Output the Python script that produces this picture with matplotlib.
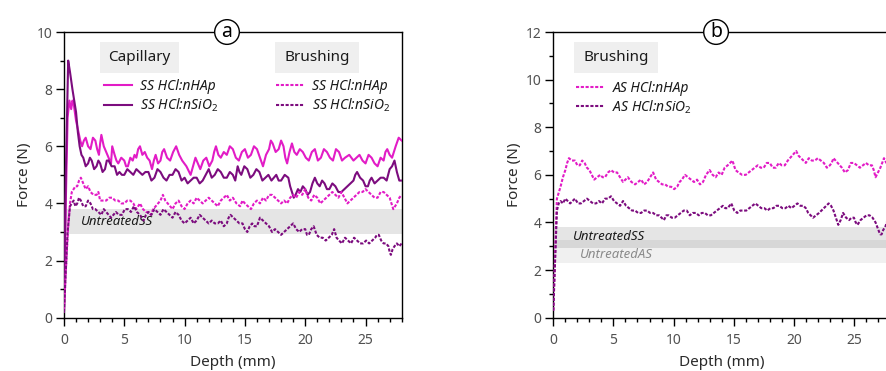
import matplotlib
matplotlib.use("Agg")
import matplotlib.pyplot as plt
from matplotlib.patches import Rectangle
from matplotlib.ticker import MultipleLocator

plt.rcParams['font.family'] = ['Noto Sans', 'DejaVu Sans']
plt.rcParams['mathtext.fontset'] = 'custom'
plt.rcParams['mathtext.rm'] = 'Noto Sans'
plt.rcParams['mathtext.it'] = 'Noto Sans:italic'
plt.rcParams['mathtext.default'] = 'it'

# ---------------- data: (depth mm, force N) ----------------
# Panel a: capillary SS HCl:nHAp (solid magenta)
a_cap_hap = [(0, 0.2), (0.15, 4.0), (0.3, 7.0), (0.45, 7.6), (0.6, 7.3), (0.7, 7.6), (0.8, 7.5), (0.9, 7.2),
             (1.0, 6.9), (1.1, 6.7), (1.2, 6.5), (1.35, 6.2), (1.5, 6.0), (1.65, 6.2), (1.8, 6.3), (2.0, 6.0),
             (2.2, 5.9), (2.4, 6.3), (2.6, 6.2), (2.75, 5.9), (2.9, 5.7), (3.0, 6.1), (3.1, 6.4), (3.3, 6.0),
             (3.5, 5.8), (3.7, 5.6), (3.9, 5.4), (4.0, 6.0), (4.2, 5.7), (4.35, 5.5), (4.5, 5.4), (4.75, 5.6),
             (5.0, 5.5), (5.15, 5.3), (5.3, 5.3), (5.5, 5.6), (5.7, 5.5), (5.85, 5.7), (6.0, 5.6), (6.15, 5.9),
             (6.3, 6.0), (6.5, 5.7), (6.7, 5.8), (6.9, 5.6), (7.1, 5.5), (7.3, 5.2), (7.45, 5.5), (7.6, 5.7),
             (7.8, 5.4), (8.0, 5.5), (8.15, 5.8), (8.3, 5.9), (8.55, 5.6), (8.8, 5.5), (9.05, 5.8), (9.3, 6.0),
             (9.55, 5.7), (9.8, 5.5), (10.15, 5.3), (10.5, 5.0), (10.7, 5.3), (10.9, 5.6), (11.1, 5.4), (11.3, 5.2),
             (11.55, 5.5), (11.8, 5.6), (12.05, 5.3), (12.3, 5.5), (12.45, 5.8), (12.6, 6.0), (12.8, 5.7), (13.0, 5.6),
             (13.25, 5.8), (13.5, 5.7), (13.75, 6.0), (14.0, 5.9), (14.25, 5.6), (14.5, 5.5), (14.75, 5.8), (15.0, 5.9),
             (15.25, 5.6), (15.5, 5.7), (15.75, 6.0), (16.0, 5.9), (16.25, 5.6), (16.5, 5.3), (16.75, 5.7), (17.0, 5.9),
             (17.15, 6.2), (17.3, 6.1), (17.55, 5.8), (17.8, 5.9), (18.0, 6.2), (18.2, 6.0), (18.35, 5.6), (18.5, 5.4),
             (18.7, 5.8), (18.9, 6.1), (19.1, 5.8), (19.3, 5.7), (19.55, 5.9), (19.8, 5.8), (20.05, 5.6), (20.3, 5.5),
             (20.55, 5.8), (20.8, 5.9), (21.05, 5.5), (21.3, 5.6), (21.55, 5.9), (21.8, 5.8), (22.05, 5.6), (22.3, 5.5),
             (22.55, 5.9), (22.8, 5.8), (23.05, 5.5), (23.3, 5.6), (23.65, 5.7), (24.0, 5.5), (24.25, 5.6), (24.5, 5.7),
             (24.75, 5.5), (25.0, 5.4), (25.25, 5.7), (25.5, 5.6), (25.75, 5.4), (26.0, 5.3), (26.25, 5.6), (26.5, 5.5),
             (26.65, 5.8), (26.8, 5.9), (27.0, 5.7), (27.2, 5.6), (27.35, 5.8), (27.5, 6.0), (27.75, 6.3), (28.0, 6.2)]

# Panel a: capillary SS HCl:nSiO2 (solid purple)
a_cap_sio = [(0, 0.2), (0.15, 5.0), (0.35, 9.0), (0.5, 8.6), (0.7, 8.0), (0.85, 7.6), (1.0, 7.2), (1.15, 6.5),
             (1.3, 6.0), (1.45, 5.7), (1.6, 5.6), (1.8, 5.3), (2.0, 5.4), (2.15, 5.6), (2.3, 5.5), (2.5, 5.2),
             (2.7, 5.3), (2.85, 5.5), (3.0, 5.4), (3.2, 5.1), (3.4, 5.2), (3.55, 5.5), (3.7, 5.5), (3.95, 5.3),
             (4.2, 5.3), (4.4, 5.0), (4.6, 5.1), (4.8, 5.0), (5.0, 5.0), (5.25, 5.2), (5.5, 5.1), (5.75, 5.0),
             (6.0, 5.2), (6.25, 5.1), (6.5, 5.0), (6.75, 5.1), (7.0, 5.1), (7.25, 4.8), (7.5, 4.9), (7.75, 5.2),
             (8.0, 5.1), (8.25, 4.9), (8.5, 4.8), (8.75, 5.0), (9.0, 5.0), (9.25, 5.2), (9.5, 5.1), (9.75, 4.8),
             (10.0, 4.9), (10.25, 4.7), (10.5, 4.8), (10.75, 4.9), (11.0, 4.9), (11.25, 4.7), (11.5, 4.8), (11.75, 5.0),
             (12.0, 5.2), (12.25, 4.9), (12.5, 5.0), (12.75, 5.2), (13.0, 5.1), (13.25, 4.9), (13.5, 4.9), (13.75, 5.1),
             (14.0, 5.0), (14.2, 4.8), (14.4, 5.3), (14.55, 5.1), (14.7, 5.0), (14.95, 5.3), (15.2, 5.2), (15.45, 4.9),
             (15.7, 5.0), (15.95, 5.2), (16.2, 5.1), (16.45, 4.8), (16.7, 4.9), (16.95, 5.0), (17.2, 4.8), (17.4, 4.9),
             (17.6, 5.0), (17.8, 4.8), (18.0, 4.8), (18.3, 5.0), (18.6, 4.9), (18.75, 4.6), (18.9, 4.4), (19.05, 4.2),
             (19.2, 4.3), (19.4, 4.5), (19.6, 4.4), (19.8, 4.6), (20.0, 4.5), (20.2, 4.3), (20.4, 4.4), (20.6, 4.7),
             (20.8, 4.9), (21.0, 4.7), (21.2, 4.6), (21.4, 4.8), (21.6, 4.7), (21.8, 4.5), (22.0, 4.5), (22.25, 4.7),
             (22.5, 4.6), (22.75, 4.4), (23.0, 4.4), (23.25, 4.5), (23.5, 4.6), (23.75, 4.7), (24.0, 4.8), (24.15, 5.0),
             (24.3, 5.1), (24.55, 4.9), (24.8, 4.8), (25.0, 4.6), (25.2, 4.6), (25.35, 4.8), (25.5, 4.9), (25.75, 4.7),
             (26.0, 4.8), (26.25, 4.9), (26.5, 4.9), (26.75, 4.8), (27.0, 5.2), (27.2, 5.3), (27.4, 5.5), (27.6, 5.1),
             (27.8, 4.8), (28.0, 4.8)]

# Panel a: brushing SS HCl:nHAp (dashed magenta)
a_bru_hap = [(0, 0.3), (0.2, 2.0), (0.35, 3.2), (0.5, 4.0), (0.65, 4.4), (0.8, 4.5), (0.95, 4.6), (1.1, 4.6),
             (1.25, 4.8), (1.4, 4.9), (1.6, 4.7), (1.8, 4.5), (2.0, 4.6), (2.2, 4.4), (2.45, 4.3), (2.7, 4.3),
             (2.85, 4.4), (3.0, 4.1), (3.25, 4.1), (3.5, 4.1), (3.75, 4.2), (4.0, 4.2), (4.25, 4.1), (4.5, 4.1),
             (4.75, 4.0), (5.0, 4.0), (5.25, 4.1), (5.5, 4.1), (5.75, 4.0), (6.0, 3.8), (6.15, 3.9), (6.3, 4.0),
             (6.55, 3.8), (6.8, 3.7), (7.0, 3.7), (7.2, 3.6), (7.4, 3.8), (7.6, 3.9), (7.8, 4.0), (8.0, 4.1),
             (8.2, 4.3), (8.4, 4.1), (8.6, 4.0), (8.8, 3.9), (9.0, 3.8), (9.25, 4.0), (9.5, 4.1), (9.75, 3.9),
             (10.0, 3.8), (10.25, 4.0), (10.5, 4.1), (10.75, 4.0), (11.0, 4.2), (11.25, 4.1), (11.5, 4.0), (11.75, 4.1),
             (12.0, 4.2), (12.25, 4.1), (12.5, 4.0), (12.75, 3.9), (13.0, 4.1), (13.25, 4.2), (13.5, 4.3), (13.75, 4.1),
             (14.0, 4.2), (14.3, 4.0), (14.6, 3.9), (14.8, 4.1), (15.0, 4.0), (15.25, 3.9), (15.5, 3.8), (15.75, 4.0),
             (16.0, 4.1), (16.25, 4.0), (16.5, 4.2), (16.75, 4.1), (17.0, 4.3), (17.25, 4.3), (17.5, 4.2), (17.75, 4.1),
             (18.0, 4.0), (18.25, 4.1), (18.5, 4.0), (18.75, 4.2), (19.0, 4.3), (19.25, 4.2), (19.5, 4.4), (19.75, 4.3),
             (20.0, 4.5), (20.25, 4.2), (20.5, 4.1), (20.75, 4.3), (21.0, 4.2), (21.25, 4.0), (21.5, 4.1), (21.75, 4.2),
             (22.0, 4.3), (22.25, 4.4), (22.5, 4.3), (22.75, 4.2), (23.0, 4.4), (23.25, 4.2), (23.5, 4.0), (23.75, 4.1),
             (24.0, 4.2), (24.25, 4.3), (24.5, 4.4), (24.75, 4.4), (25.0, 4.5), (25.25, 4.4), (25.5, 4.3), (25.75, 4.2),
             (26.0, 4.2), (26.25, 4.4), (26.5, 4.4), (26.75, 4.3), (27.0, 4.2), (27.15, 4.0), (27.3, 3.8), (27.45, 3.9),
             (27.6, 4.0), (27.8, 4.2), (28.0, 4.3)]

# Panel a: brushing SS HCl:nSiO2 (dashed purple)
a_bru_sio = [(0, 0.2), (0.3, 3.0), (0.5, 3.9), (0.65, 4.0), (0.8, 4.1), (0.95, 3.9), (1.1, 4.0), (1.25, 4.2),
             (1.4, 4.1), (1.6, 3.9), (1.8, 3.9), (2.0, 4.1), (2.2, 4.0), (2.4, 3.8), (2.6, 3.8), (2.85, 3.7),
             (3.1, 3.6), (3.3, 3.8), (3.5, 3.7), (3.7, 3.6), (3.9, 3.5), (4.1, 3.6), (4.3, 3.7), (4.55, 3.6),
             (4.8, 3.6), (5.05, 3.8), (5.3, 3.8), (5.55, 3.7), (5.8, 3.9), (6.05, 3.7), (6.3, 3.6), (6.45, 3.5),
             (6.6, 3.4), (6.8, 3.6), (7.0, 3.7), (7.25, 3.6), (7.5, 3.8), (7.75, 3.7), (8.0, 3.6), (8.25, 3.8),
             (8.5, 3.7), (8.75, 3.6), (9.0, 3.5), (9.25, 3.7), (9.5, 3.6), (9.75, 3.4), (10.0, 3.3), (10.25, 3.4),
             (10.5, 3.5), (10.75, 3.3), (11.0, 3.4), (11.25, 3.6), (11.5, 3.5), (11.75, 3.4), (12.0, 3.3), (12.25, 3.4),
             (12.5, 3.3), (12.75, 3.3), (13.0, 3.4), (13.25, 3.2), (13.5, 3.3), (13.65, 3.5), (13.8, 3.6), (14.05, 3.5),
             (14.3, 3.4), (14.55, 3.3), (14.8, 3.3), (15.0, 3.1), (15.2, 3.0), (15.4, 3.2), (15.6, 3.3), (15.8, 3.2),
             (16.0, 3.2), (16.25, 3.5), (16.5, 3.4), (16.75, 3.3), (17.0, 3.2), (17.25, 3.0), (17.5, 3.1), (17.75, 3.0),
             (18.0, 2.9), (18.25, 3.0), (18.5, 3.1), (18.75, 3.2), (19.0, 3.3), (19.25, 3.1), (19.5, 3.0), (19.75, 3.1),
             (20.0, 3.1), (20.15, 2.9), (20.3, 2.9), (20.5, 3.1), (20.7, 3.2), (20.95, 2.9), (21.2, 2.8), (21.45, 2.8),
             (21.7, 2.7), (21.95, 2.8), (22.2, 2.9), (22.4, 3.1), (22.6, 2.8), (22.8, 2.7), (23.05, 2.6), (23.3, 2.8),
             (23.55, 2.7), (23.8, 2.6), (24.05, 2.8), (24.3, 2.7), (24.55, 2.6), (24.8, 2.6), (25.05, 2.7), (25.3, 2.6),
             (25.55, 2.7), (25.8, 2.8), (25.95, 2.9), (26.1, 2.9), (26.3, 2.7), (26.5, 2.6), (26.7, 2.6), (26.9, 2.5),
             (27.0, 2.3), (27.1, 2.2), (27.25, 2.4), (27.4, 2.5), (27.6, 2.6), (27.8, 2.5), (28.0, 2.6)]

# Panel b: brushing AS HCl:nHAp (dashed magenta)
b_bru_hap = [(0, 0.3), (0.3, 5.0), (0.6, 5.5), (0.8, 5.9), (1.0, 6.2), (1.15, 6.5), (1.3, 6.7), (1.55, 6.6),
             (1.8, 6.6), (2.0, 6.4), (2.2, 6.4), (2.4, 6.6), (2.6, 6.5), (2.8, 6.3), (3.0, 6.2), (3.2, 6.0),
             (3.4, 5.8), (3.65, 5.9), (3.9, 6.0), (4.1, 5.9), (4.3, 5.9), (4.55, 6.1), (4.8, 6.2), (5.05, 6.1),
             (5.3, 6.1), (5.55, 5.9), (5.8, 5.7), (6.0, 5.8), (6.2, 5.9), (6.5, 5.7), (6.8, 5.6), (7.05, 5.7),
             (7.3, 5.8), (7.55, 5.6), (7.8, 5.7), (8.05, 5.9), (8.3, 6.1), (8.55, 5.8), (8.8, 5.7), (9.05, 5.6),
             (9.3, 5.6), (9.55, 5.5), (9.8, 5.5), (10.05, 5.4), (10.3, 5.5), (10.5, 5.7), (10.7, 5.8), (10.95, 6.0),
             (11.2, 5.9), (11.45, 5.8), (11.7, 5.7), (11.95, 5.8), (12.2, 5.6), (12.45, 5.7), (12.7, 6.0), (12.85, 6.1),
             (13.0, 6.2), (13.25, 6.0), (13.5, 5.9), (13.75, 6.1), (14.0, 6.0), (14.25, 6.3), (14.5, 6.4), (14.7, 6.5),
             (14.9, 6.6), (15.15, 6.2), (15.4, 6.1), (15.7, 6.0), (16.0, 6.0), (16.25, 6.1), (16.5, 6.2), (16.75, 6.3),
             (17.0, 6.4), (17.25, 6.3), (17.5, 6.3), (17.75, 6.5), (18.0, 6.5), (18.25, 6.3), (18.5, 6.3), (18.75, 6.5),
             (19.0, 6.4), (19.25, 6.4), (19.5, 6.6), (19.85, 6.8), (20.2, 7.0), (20.4, 6.8), (20.6, 6.7), (20.8, 6.6),
             (21.0, 6.5), (21.25, 6.7), (21.5, 6.6), (21.75, 6.6), (22.0, 6.7), (22.25, 6.6), (22.5, 6.5), (22.75, 6.3),
             (23.0, 6.4), (23.15, 6.5), (23.3, 6.7), (23.65, 6.5), (24.0, 6.3), (24.25, 6.1), (24.5, 6.2), (24.75, 6.5),
             (25.0, 6.5), (25.25, 6.4), (25.5, 6.3), (25.75, 6.4), (26.0, 6.5), (26.25, 6.4), (26.5, 6.4), (26.65, 6.2),
             (26.8, 5.9), (27.0, 6.1), (27.2, 6.3), (27.35, 6.5), (27.5, 6.7), (27.7, 6.5), (28.0, 6.6)]

# Panel b: brushing AS HCl:nSiO2 (dashed purple)
b_bru_sio = [(0, 0.3), (0.3, 4.5), (0.45, 4.8), (0.6, 4.9), (0.8, 4.8), (1.0, 5.0), (1.2, 4.9), (1.4, 4.8),
             (1.6, 4.9), (1.8, 5.0), (2.05, 4.8), (2.3, 4.8), (2.55, 4.9), (2.8, 5.0), (3.05, 4.9), (3.3, 4.8),
             (3.55, 4.8), (3.8, 4.9), (4.05, 4.8), (4.3, 5.0), (4.55, 5.0), (4.8, 5.1), (5.05, 4.9), (5.3, 4.8),
             (5.55, 4.7), (5.8, 4.9), (6.05, 4.7), (6.3, 4.6), (6.55, 4.5), (6.8, 4.5), (7.05, 4.4), (7.3, 4.4),
             (7.55, 4.5), (7.8, 4.5), (8.05, 4.4), (8.3, 4.4), (8.55, 4.3), (8.8, 4.3), (9.0, 4.2), (9.2, 4.1),
             (9.4, 4.3), (9.6, 4.3), (9.85, 4.2), (10.1, 4.2), (10.35, 4.3), (10.6, 4.4), (10.85, 4.5), (11.1, 4.5),
             (11.35, 4.3), (11.6, 4.4), (11.85, 4.4), (12.1, 4.3), (12.35, 4.4), (12.6, 4.4), (12.85, 4.3), (13.1, 4.3),
             (13.35, 4.4), (13.6, 4.5), (13.85, 4.6), (14.1, 4.7), (14.3, 4.6), (14.5, 4.6), (14.65, 4.7), (14.8, 4.8),
             (15.05, 4.5), (15.3, 4.4), (15.55, 4.5), (15.8, 4.5), (16.05, 4.5), (16.3, 4.6), (16.55, 4.7), (16.8, 4.8),
             (17.05, 4.7), (17.3, 4.6), (17.55, 4.6), (17.8, 4.5), (18.05, 4.6), (18.3, 4.6), (18.55, 4.7), (18.8, 4.7),
             (19.05, 4.6), (19.3, 4.6), (19.55, 4.7), (19.8, 4.6), (20.05, 4.7), (20.3, 4.8), (20.55, 4.7), (20.8, 4.7),
             (21.0, 4.6), (21.2, 4.4), (21.4, 4.3), (21.6, 4.2), (21.85, 4.3), (22.1, 4.4), (22.3, 4.5), (22.5, 4.6),
             (22.7, 4.7), (22.9, 4.8), (23.1, 4.7), (23.3, 4.5), (23.5, 4.2), (23.7, 3.9), (23.9, 4.1), (24.1, 4.4),
             (24.35, 4.2), (24.6, 4.1), (24.8, 4.2), (25.0, 4.2), (25.15, 4.0), (25.3, 3.9), (25.55, 4.1), (25.8, 4.2),
             (26.05, 4.3), (26.3, 4.3), (26.55, 4.2), (26.8, 4.0), (26.95, 3.8), (27.1, 3.6), (27.2, 3.5), (27.3, 3.5),
             (27.45, 3.7), (27.6, 3.8), (27.8, 4.1), (28.0, 4.1)]

# Untreated reference bands (low, high)
untreated_ss = (2.93, 3.82)
untreated_as = (2.31, 3.26)

labels_a_cap = ['SS HCl:nHAp', 'SS HCl:nSiO$_2$']
labels_a_bru = ['SS HCl:nHAp', 'SS HCl:nSiO$_2$']
labels_b_bru = ['AS HCl:nHAp', 'AS HCl:nSiO$_2$']

# ---------------- styling ----------------
MAG = '#e21cc6'
PUR = '#7c0c7e'
TICKC = '#505050'
LABC = '#2a2a2a'
LW = 1.5
DASH = (1.5, 0.8)

fig = plt.figure(figsize=(8.86, 3.71), dpi=100)
ax_a = fig.add_axes([0.0722, 0.1437, 0.3812, 0.7700])
ax_b = fig.add_axes([0.6245, 0.1437, 0.3800, 0.7700])


def xy(pairs):
    return [p[0] for p in pairs], [p[1] for p in pairs]


def style_axes(ax, ymax):
    ax.set_xlim(0, 28)
    ax.set_ylim(0, ymax)
    ax.xaxis.set_major_locator(MultipleLocator(5))
    ax.xaxis.set_minor_locator(MultipleLocator(1))
    ax.yaxis.set_major_locator(MultipleLocator(2))
    ax.yaxis.set_minor_locator(MultipleLocator(1))
    ax.tick_params(which='major', direction='out', length=6, width=1,
                   labelsize=10, labelcolor=TICKC, color='black')
    ax.tick_params(axis='x', which='major', pad=5)
    ax.tick_params(axis='y', which='major', pad=2.5)
    ax.tick_params(which='minor', direction='out', length=3, width=1, color='black')
    for s in ax.spines.values():
        s.set_linewidth(1.0)
        s.set_color('black')
    ax.set_xlabel('Depth (mm)', fontsize=11, color=LABC, labelpad=5)
    ax.set_ylabel('Force (N)', fontsize=11, color=LABC, labelpad=3)


def header_box(ax, x0, x1, text):
    y0, y1 = 0.8565, 0.965
    ax.add_patch(Rectangle((x0, y0), x1 - x0, y1 - y0, transform=ax.transAxes,
                           facecolor='#efefef', edgecolor='none', zorder=1))
    ax.text((x0 + x1) / 2, (y0 + y1) / 2, text, transform=ax.transAxes,
            ha='center', va='center', fontsize=11, color='#1a1a1a', zorder=2)


def panel_letter(ax, xf, letter):
    ax.text(xf, 1.0, letter, transform=ax.transAxes, ha='center', va='center',
            fontsize=14, color='black', zorder=20, clip_on=False,
            bbox=dict(boxstyle='circle,pad=0.12', fc='white', ec='black', lw=1.0))


def add_legend(ax, handles, labels, x, y):
    leg = ax.legend(handles, labels, loc='upper left', bbox_to_anchor=(x, y),
                    bbox_transform=ax.transAxes, frameon=False, borderpad=0,
                    borderaxespad=0, handlelength=2.0, handletextpad=0.6,
                    labelspacing=0.2, prop={'size': 10, 'style': 'italic'})
    for t in leg.get_texts():
        t.set_color('#1a1a1a')
    return leg


# ---------------- panel a ----------------
style_axes(ax_a, 10)
ax_a.axhspan(untreated_ss[0], untreated_ss[1], color='black', alpha=0.10, lw=0, zorder=0)
ax_a.text(1.4, sum(untreated_ss) / 2, 'UntreatedSS', fontsize=9.5, style='italic',
          color='#1a1a1a', ha='left', va='center', zorder=1)
l1, = ax_a.plot(*xy(a_cap_hap), color=MAG, lw=LW, zorder=3)
l2, = ax_a.plot(*xy(a_cap_sio), color=PUR, lw=LW, zorder=3)
l3, = ax_a.plot(*xy(a_bru_hap), color=MAG, lw=LW, dashes=DASH, zorder=3)
l4, = ax_a.plot(*xy(a_bru_sio), color=PUR, lw=LW, dashes=DASH, zorder=3)
header_box(ax_a, 0.1066, 0.3405, 'Capillary')
header_box(ax_a, 0.6248, 0.8736, 'Brushing')
leg1 = add_legend(ax_a, [l1, l2], labels_a_cap, 0.118, 0.835)
ax_a.add_artist(leg1)
add_legend(ax_a, [l3, l4], labels_a_bru, 0.628, 0.835)
panel_letter(ax_a, 0.4827, 'a')

# ---------------- panel b ----------------
style_axes(ax_b, 12)
ax_b.axhspan(untreated_ss[0], untreated_ss[1], color='black', alpha=0.10, lw=0, zorder=0)
ax_b.axhspan(untreated_as[0], untreated_as[1], color='black', alpha=0.06, lw=0, zorder=0)
ax_b.text(1.6, 3.39, 'UntreatedSS', fontsize=9.5, style='italic',
          color='#1a1a1a', ha='left', va='center', zorder=1)
ax_b.text(2.2, 2.66, 'UntreatedAS', fontsize=9.5, style='italic',
          color='#8a8a8a', ha='left', va='center', zorder=1)
m1, = ax_b.plot(*xy(b_bru_hap), color=MAG, lw=LW, dashes=DASH, zorder=3)
m2, = ax_b.plot(*xy(b_bru_sio), color=PUR, lw=LW, dashes=DASH, zorder=3)
header_box(ax_b, 0.0606, 0.311, 'Brushing')
add_legend(ax_b, [m1, m2], labels_b_bru, 0.068, 0.83)
panel_letter(ax_b, 0.4834, 'b')

fig.savefig('out.png', dpi=100)
